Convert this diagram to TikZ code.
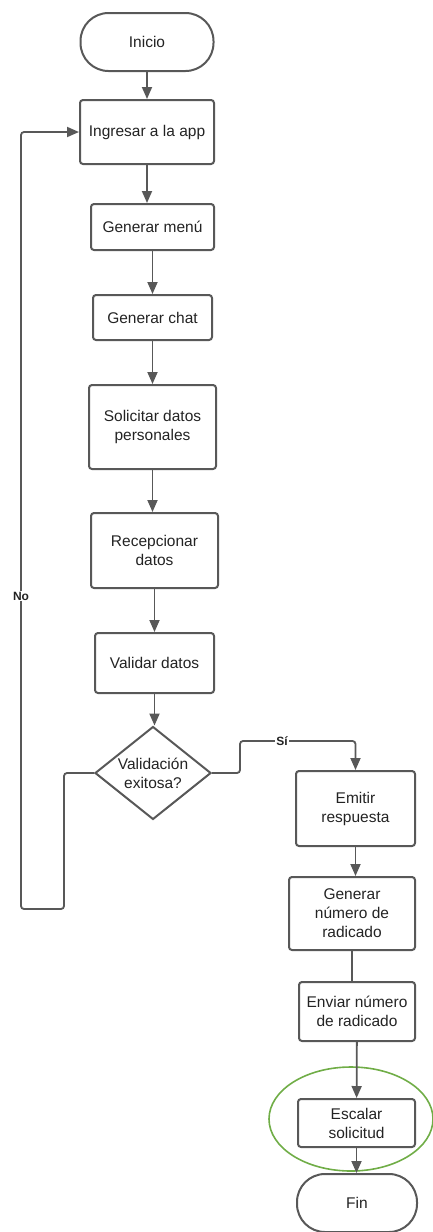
\documentclass[tikz,border=0pt]{standalone}
\usepackage{fontspec}
\setmainfont{Liberation Sans}
\usetikzlibrary{shapes.geometric,arrows.meta}
\definecolor{linea}{RGB}{88,88,88}
\definecolor{texto}{RGB}{35,35,35}
\definecolor{verde}{RGB}{112,173,71}

\begin{document}
\begin{tikzpicture}[x=1pt,y=-1pt,
    proceso/.style={draw=linea,line width=2pt,rounded corners=3pt,align=center,
        text=texto,font=\fontsize{15.5}{19}\selectfont,inner sep=0pt},
    terminal/.style={proceso,rounded corners=28pt},
    decision/.style={diamond,draw=linea,line width=2pt,align=center,text=texto,
        font=\fontsize{15.5}{19}\selectfont,inner sep=-2pt,
        minimum width=116pt,minimum height=88pt},
    flecha/.style={draw=linea,line width=1.8pt,rounded corners=3pt,
        -{Triangle[width=10pt,length=12pt]}},
    linea/.style={draw=linea,line width=1.8pt,rounded corners=3pt},
    rotulo/.style={fill=white,text=texto,inner sep=1pt,font=\bfseries\fontsize{12}{14}\selectfont}]
    \useasboundingbox (0,0) rectangle (433,1232);
    % main column
    \node[terminal,minimum width=133pt,minimum height=58pt] (inicio) at (147,42) {Inicio};
    \node[proceso,minimum width=134pt,minimum height=64pt] (ingresar) at (147,132) {Ingresar a la app};
    \node[proceso,minimum width=123pt,minimum height=46pt] (menu) at (152.5,227) {Generar menú};
    \node[proceso,minimum width=119pt,minimum height=45pt] (chat) at (152.5,317.5) {Generar chat};
    \node[proceso,minimum width=127pt,minimum height=84pt] (solicitar) at (152.5,427) {Solicitar datos\\personales};
    \node[proceso,minimum width=127pt,minimum height=75pt] (recepcionar) at (154.5,550.5) {Recepcionar\\datos};
    \node[proceso,minimum width=119pt,minimum height=60pt] (validar) at (154.5,663) {Validar datos};
    \node[decision] (valida) at (153,773) {Validación\\exitosa?};
    % right column
    \node[proceso,minimum width=119pt,minimum height=75pt] (emitir) at (355.5,808.5) {Emitir\\respuesta};
    \node[proceso,minimum width=126pt,minimum height=73pt] (radicado) at (352,913.5) {Generar\\número de\\radicado};
    \node[proceso,minimum width=116pt,minimum height=59pt] (enviar) at (357,1011.5) {Enviar número\\de radicado};
    \node[proceso,minimum width=117pt,minimum height=48pt] (escalar) at (356.5,1123) {Escalar\\solicitud};
    \node[terminal,minimum width=120pt,minimum height=58pt] (fin) at (357,1203) {Fin};
    \draw[verde,line width=1.6pt] (351,1119) ellipse (82 and 52);

    \coordinate (no1) at (64,773);
    \coordinate (no2) at (64,909);
    \coordinate (no3) at (21,909);
    \coordinate (no4) at (21,132);
    \coordinate (si1) at (240,773);
    \coordinate (si2) at (240,741);
    \coordinate (si3) at (355.5,741);

    \draw[flecha] (inicio) -- (ingresar);
    \draw[flecha] (ingresar.south) -- (ingresar.south |- menu.north);
    \draw[flecha] (menu) -- (chat);
    \draw[flecha] (chat) -- (solicitar);
    \draw[flecha] (solicitar.south) -- (solicitar.south |- recepcionar.north);
    \draw[flecha] (recepcionar) -- (validar);
    \draw[flecha] (validar.south) -- (validar.south |- valida.north);
    \draw[flecha] (valida.west) -- (no1) -- (no2) -- (no3) -- (no4) -- (ingresar.west);
    \node[rotulo] (no) at (21,596) {No};
    \draw[flecha] (valida.east) -- (si1) -- (si2) -- (si3) -- (emitir.north);
    \node[rotulo] (si) at (282,741) {Sí};
    \draw[flecha] (emitir.south) -- (emitir.south |- radicado.north);
    \draw[linea] (radicado.south) -- (radicado.south |- enviar.north);
    \draw[flecha] (enviar) -- (escalar);
    \draw[flecha] (escalar.south) -- (escalar.south |- fin.north);
\end{tikzpicture}
\end{document}
